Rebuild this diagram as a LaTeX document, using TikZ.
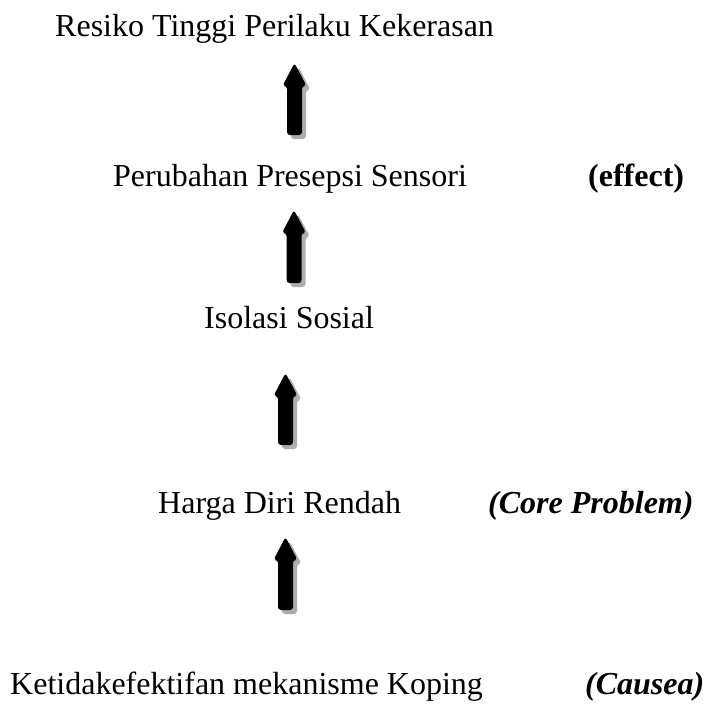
\documentclass[tikz,border=0pt]{standalone}
\usepackage{fontspec}
\setmainfont{Liberation Serif}
\begin{document}
\begin{tikzpicture}[x=1pt,y=-1pt,
  lbl/.style={anchor=base west,inner sep=0pt,font=\fontsize{32}{38}\selectfont},
  tag/.style={lbl,font=\fontsize{32}{38}\selectfont\bfseries},
  itag/.style={lbl,font=\fontsize{32}{38}\selectfont\bfseries\itshape},
  blk/.style={fill=black,rounded corners=3pt},
  shd/.style={fill=black!32,rounded corners=3pt}]
\useasboundingbox (0,0) rectangle (712,704);
\newcommand{\blockarr}[3]{%
  \fill[shd,shift={(4,4)}] (#1-7.5,#3) -- (#1-7.5,#2+23) -- (#1-12,#2+23) -- (#1,#2) -- (#1+12,#2+23) -- (#1+7.5,#2+23) -- (#1+7.5,#3) -- cycle;
  \fill[blk] (#1-7.5,#3) -- (#1-7.5,#2+23) -- (#1-12,#2+23) -- (#1,#2) -- (#1+12,#2+23) -- (#1+7.5,#2+23) -- (#1+7.5,#3) -- cycle;}
\node[lbl] (t1) at (55,36) {Resiko Tinggi Perilaku Kekerasan};
\node[lbl] (t2) at (113,186) {Perubahan Presepsi Sensori};
\node[tag] (l2) at (588,186) {(effect)};
\node[lbl] (t3) at (204,328) {Isolasi Sosial};
\node[lbl] (t4) at (158,513) {Harga Diri Rendah};
\node[itag] (l4) at (488,513) {(Core Problem)};
\node[lbl] (t5) at (10,694) {Ketidakefektifan mekanisme Koping};
\node[itag] (l5) at (585,694) {(Causea)};
\blockarr{294.5}{63}{135}
\blockarr{294}{210}{283}
\blockarr{285.5}{373}{445}
\blockarr{285.5}{537}{610}
\end{tikzpicture}
\end{document}
